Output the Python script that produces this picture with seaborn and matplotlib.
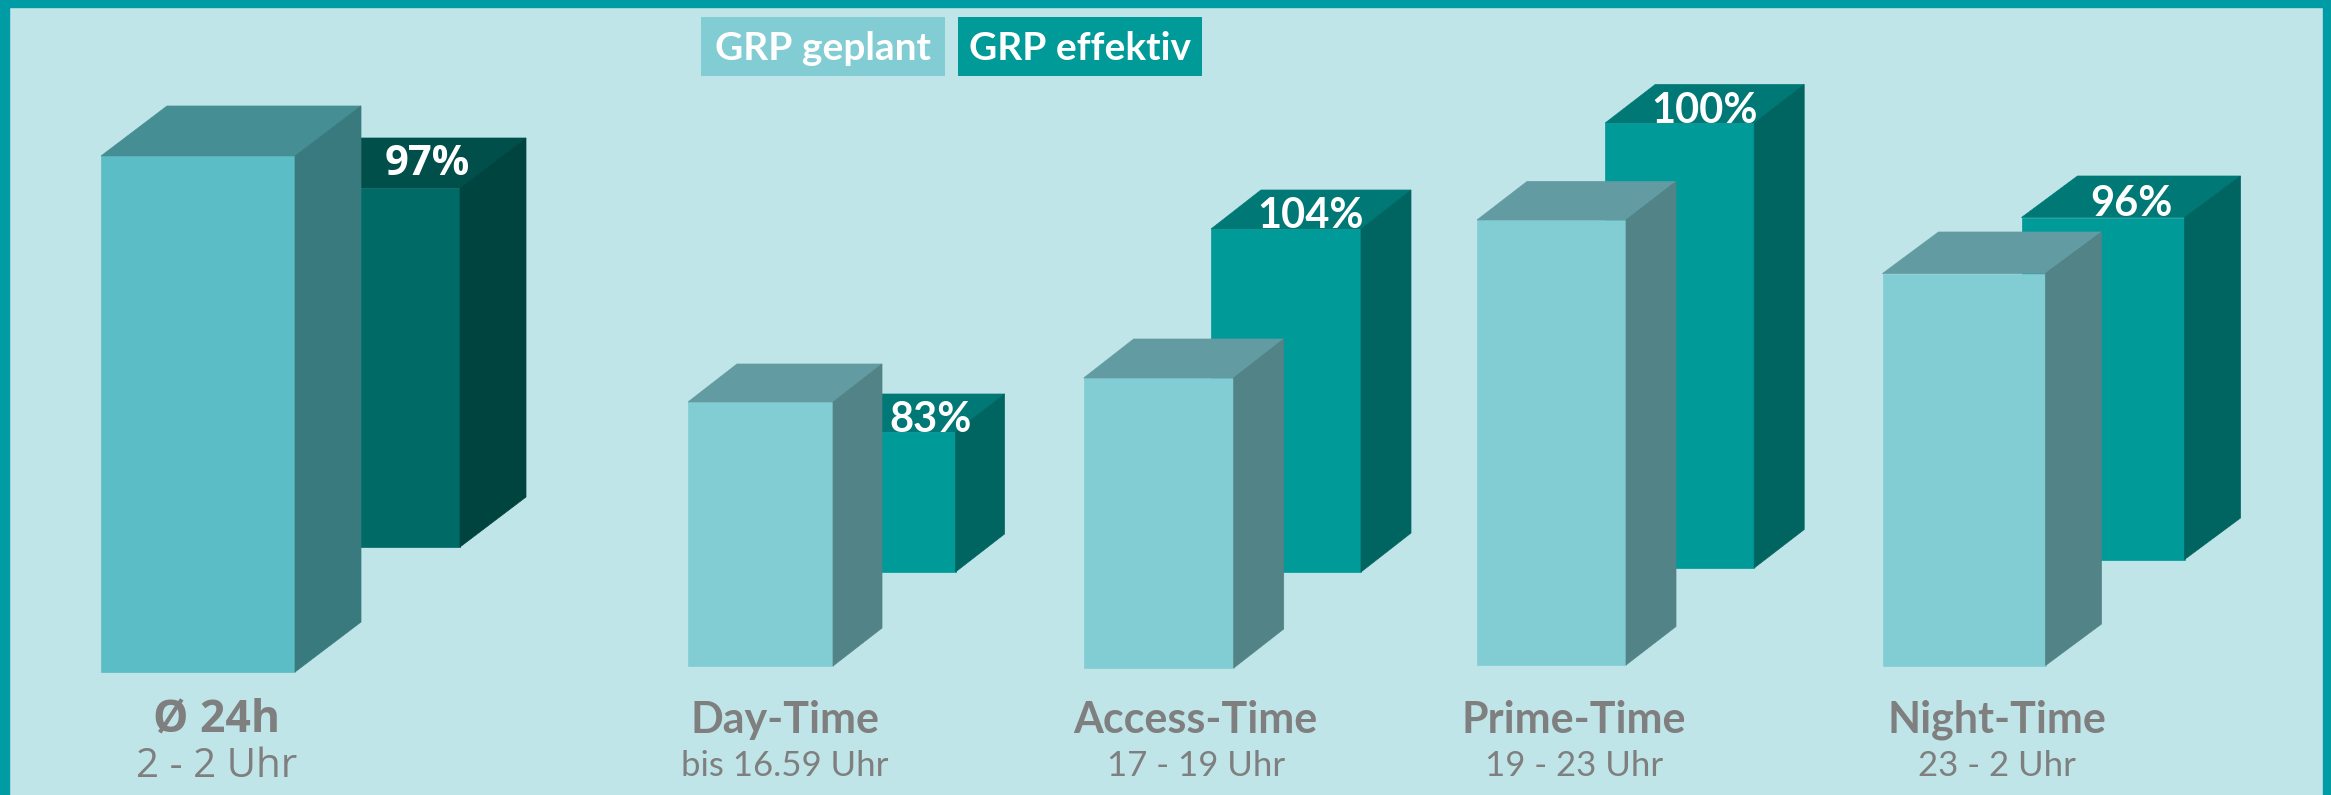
import matplotlib
matplotlib.use("Agg")
import matplotlib.pyplot as plt
from matplotlib.patches import Polygon, Rectangle
import seaborn as sns
import pandas as pd

# Daten (aus der Grafik geschaetzt)
categories = ["Ø 24h", "Day-Time", "Access-Time", "Prime-Time", "Night-Time"]
time_ranges = ["2 - 2 Uhr", "bis 16.59 Uhr", "17 - 19 Uhr", "19 - 23 Uhr", "23 - 2 Uhr"]
effektiv_pct = [97, 83, 104, 100, 96]
geplant_height = [516, 264, 290, 445, 392]
effektiv_height = [359, 140, 343, 445, 342]

# Layout der Pseudo-3D-Saeulen
slot_center = [198, 760.5, 1158.7, 1551.5, 1964]
bar_width = [194, 145, 150, 149, 163]
depth_dx = [66, 49, 50, 50, 56]
depth_dy = [50, 38, 39, 38.5, 41.5]
effektiv_shift = [165, 122.5, 127.3, 128.2, 139]
floor_geplant = [123, 129, 127, 130, 129.5]
floor_effektiv = [248, 223, 223, 227, 235.5]
label_shift = [19, 24.5, 37, 22.5, 33]

BG = "#c0e5e8"
FRAME = "#009ca6"
GREY = "#7f7f7f"

# erste Gruppe (Durchschnitt) in dunkleren Toenen
colors_geplant = [("#5bbdc5", "#448e94", "#387a7e")] + [("#82cdd3", "#629ba2", "#528386")] * 4
colors_effektiv = [("#006a66", "#004f4b", "#004440")] + [("#009a98", "#007976", "#006461")] * 4

df = pd.DataFrame({
    "kategorie": categories,
    "zeit": time_ranges,
    "pct": effektiv_pct,
    "geplant": geplant_height,
    "effektiv": effektiv_height,
})

sns.set_theme(style="white")
plt.rcParams["font.family"] = ["Lato", "DejaVu Sans"]

fig = plt.figure(figsize=(23.31, 7.95), dpi=100)
fig.patch.set_facecolor(BG)
ax = fig.add_axes([0, 0, 1, 1])
ax.set_xlim(0, 2331)
ax.set_ylim(0, 795)
ax.axis("off")


def draw_box(ax, center, width, bottom, height, dx, dy, cols):
    front, top, side = cols
    left = center - width / 2
    right = center + width / 2
    t = bottom + height
    ax.bar(center, height, width=width, bottom=bottom, color=front,
           edgecolor=front, linewidth=0.5, zorder=2)
    ax.add_patch(Polygon([(left, t), (left + dx, t + dy), (right + dx, t + dy), (right, t)],
                         closed=True, facecolor=top, edgecolor=top, linewidth=0.5, zorder=2))
    ax.add_patch(Polygon([(right, bottom), (right + dx, bottom + dy), (right + dx, t + dy), (right, t)],
                         closed=True, facecolor=side, edgecolor=side, linewidth=0.5, zorder=2))


for i, row in df.iterrows():
    c_p = slot_center[i]
    c_e = c_p + effektiv_shift[i]
    w = bar_width[i]
    dx, dy = depth_dx[i], depth_dy[i]

    # hintere Saeule zuerst, dann die vordere
    draw_box(ax, c_e, w, floor_effektiv[i], row["effektiv"], dx, dy, colors_effektiv[i])
    draw_box(ax, c_p, w, floor_geplant[i], row["geplant"], dx, dy, colors_geplant[i])

    # Prozentwert auf der sichtbaren Deckflaeche
    eff_top = floor_effektiv[i] + row["effektiv"]
    pl_top = floor_geplant[i] + row["geplant"]
    vis_left = c_e - w / 2 + dx / 2
    if eff_top < pl_top + dy:
        vis_left = max(vis_left, c_p + w / 2 + dx)
    vis_right = c_e + w / 2 + dx / 2
    if i == 0:
        fam = ["Open Sans", "DejaVu Sans"]
        nudge = -1.5
    else:
        fam = ["Lato", "DejaVu Sans"]
        nudge = -7
    ax.text((vis_left + vis_right) / 2, eff_top + dy / 2 + nudge, f"{row['pct']}%",
            ha="center", va="center", color="white", fontsize=30,
            fontweight="bold", family=fam, zorder=3)

    # Beschriftung unter den Saeulen
    lx = c_p + label_shift[i]
    ax.text(lx, 75, row["kategorie"], ha="center", va="center", color=GREY,
            fontsize=31 if i else 32, fontweight="bold", family=fam)
    ax.text(lx, 28.5, row["zeit"], ha="center", va="center", color=GREY,
            fontsize=25 if i else 29, family=fam)

# Legende
for x0, label, col in [(701, "GRP geplant", colors_geplant[1][0]),
                       (958, "GRP effektiv", colors_effektiv[1][0])]:
    ax.add_patch(Rectangle((x0, 719), 244, 59, facecolor=col, edgecolor="none", zorder=2))
    ax.text(x0 + 122, 747, label, ha="center", va="center", color="white",
            fontsize=28, fontweight="bold", zorder=3)

# Rahmen
fig.add_artist(Rectangle((0, 0), 9 / 2331, 1, transform=fig.transFigure, color=FRAME))
fig.add_artist(Rectangle((1 - 8 / 2331, 0), 8 / 2331, 1, transform=fig.transFigure, color=FRAME))
fig.add_artist(Rectangle((0, 1 - 7 / 795), 1, 7 / 795, transform=fig.transFigure, color=FRAME))

fig.savefig("out.png", dpi=100, facecolor=BG)
